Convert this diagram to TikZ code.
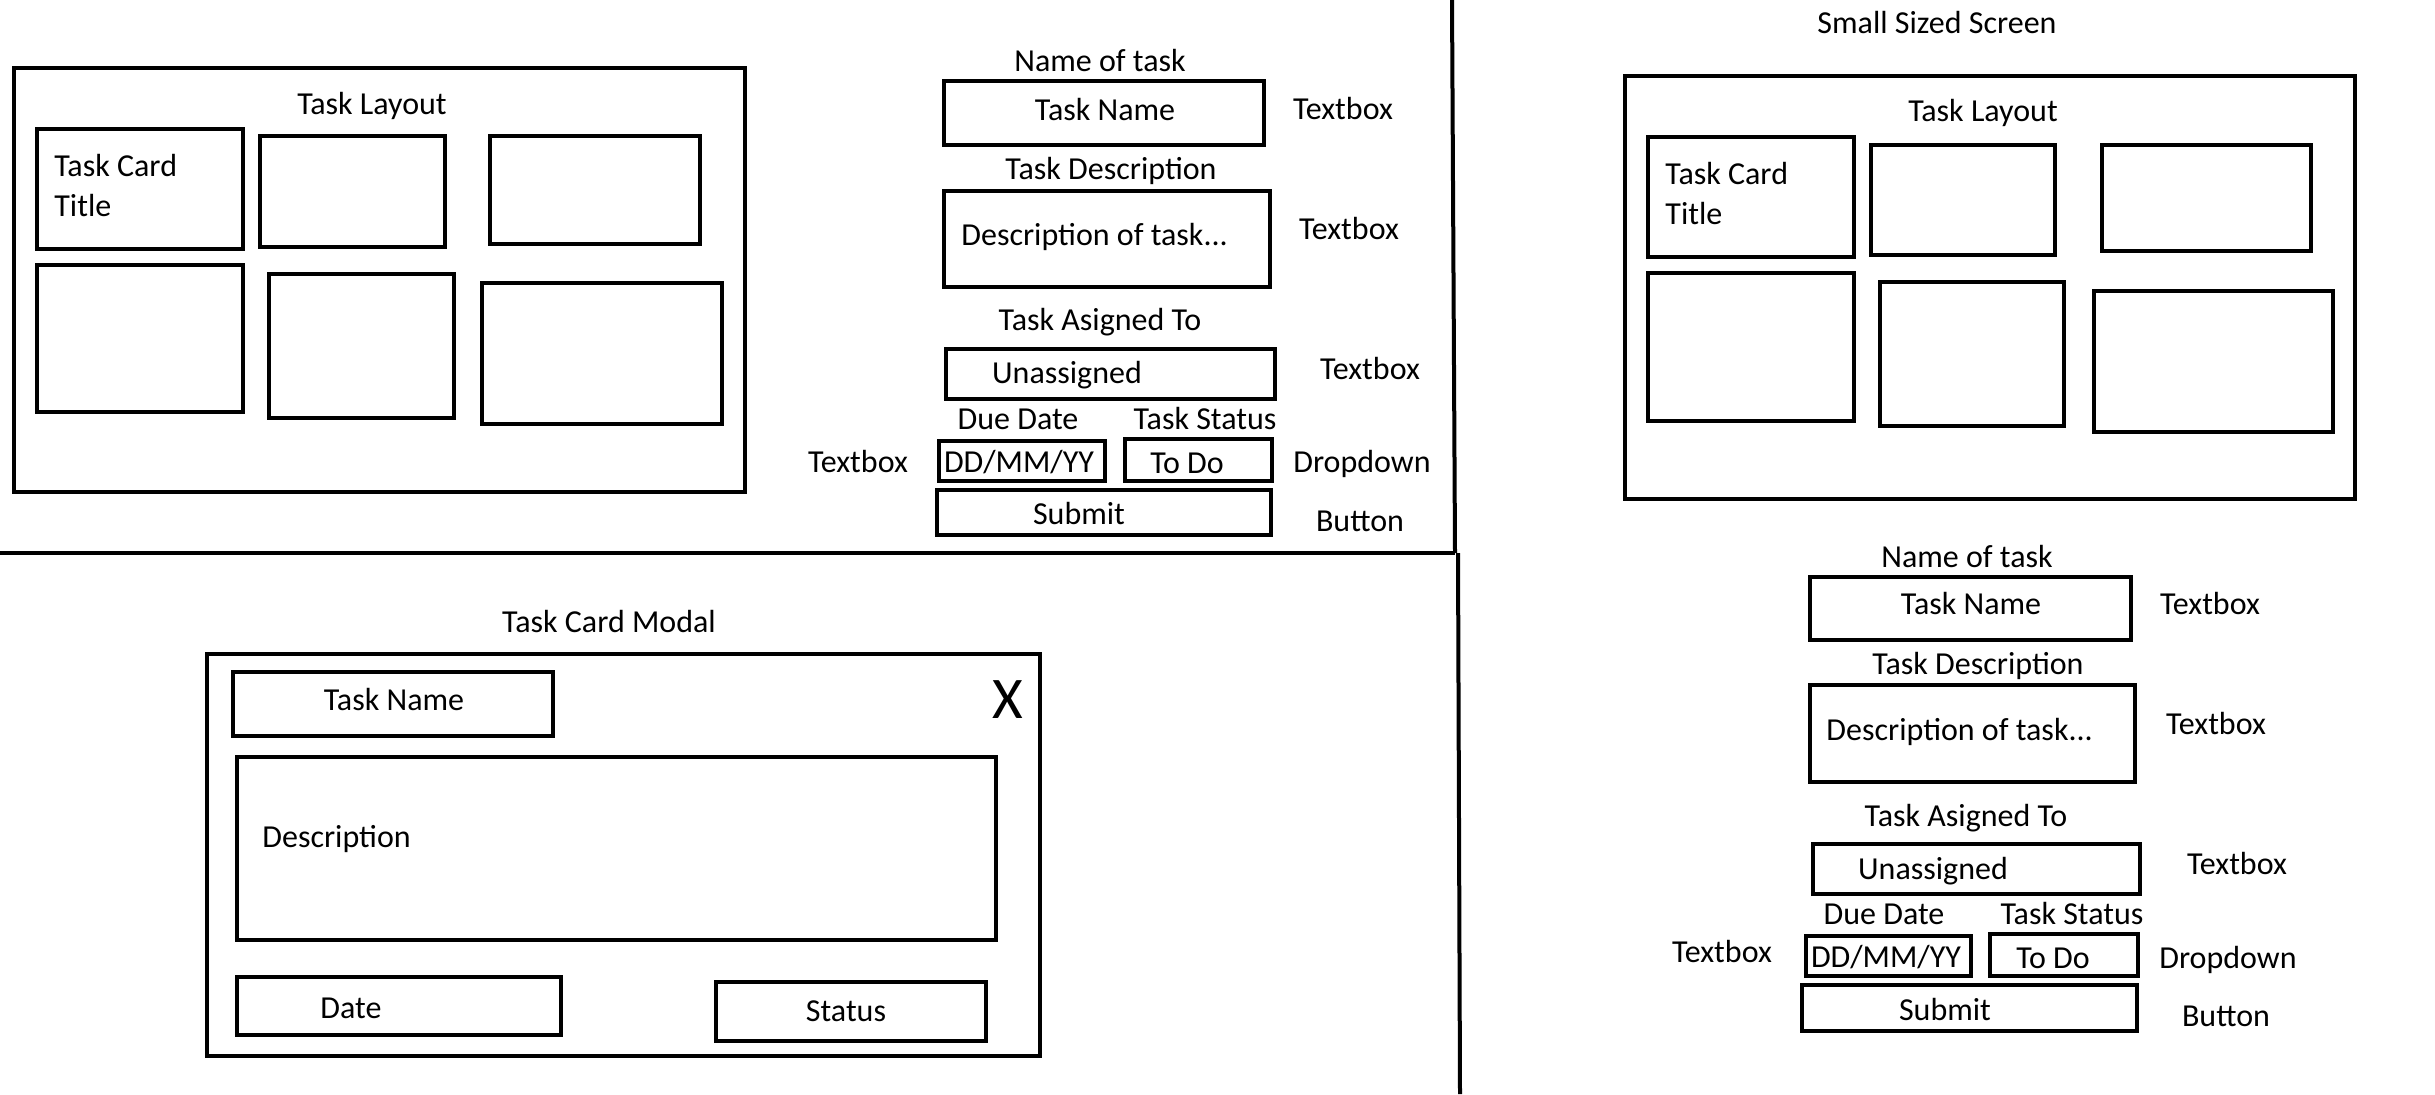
\documentclass[tikz,border=0pt]{standalone}
\usepackage{fontspec}
\setmainfont{Carlito}
\usetikzlibrary{fit}

\tikzset{
  wire/.style={draw, line width=1.75pt, inner sep=0pt},
  lbl/.style={inner sep=0pt, anchor=base},
  lblw/.style={inner sep=0pt, anchor=base west},
  divider/.style={line width=2pt},
}

\begin{document}
\begin{tikzpicture}[x=0.5pt, y=-0.5pt, font=\fontsize{16}{20}\selectfont]
    \useasboundingbox (0,0) rectangle (2435,1094);


    % dividers between the three screens
    \coordinate (vtop) at (1452,0);
    \coordinate (vmid) at (1455,553);
    \coordinate (vmidb) at (1458,553);
    \coordinate (vbot) at (1460,1094);
    \coordinate (hleft) at (0,553);
    \draw[divider] (vtop) -- (vmid);
    \draw[divider] (vmidb) -- (vbot);
    \draw[divider] (hleft) -- (vmid);


    % top left: task layout
    \node[wire, fit={(14,68) (745,492)}] (llayout) {};
    \node[lbl] (llayouttitle) at (372,114) {Task Layout};
    \foreach \n/\xa/\ya/\xb/\yb in {1/37/129/243/249, 2/260/136/445/247, 3/490/136/700/244,
                                   4/37/265/243/412, 5/269/274/454/418, 6/482/283/722/424}
        \node[wire, fit={(\xa,\ya) (\xb,\yb)}] (lcard\n) {};
    \node[inner sep=0pt, anchor=north west, align=left] (lcardtitle) at (54,154) {Task Card\\Title};


    % top middle: new task form
    \node[lbl] (lnamelbl) at (1100,71) {Name of task};
    \node[wire, fit={(944,81) (1264,145)}] (lnamebox) {};
    \node[lbl] (lnametxt) at (1105,120) {Task Name};
    \node[lbl] (lnametype) at (1343,119) {Textbox};
    % description
    \node[lbl] (ldesclbl) at (1111,179) {Task Description};
    \node[wire, fit={(944,191) (1270,287)}] (ldescbox) {};
    \node[lblw] (ldesctxt) at (961,245) {Description of task...};
    \node[lbl] (ldesctype) at (1349,239) {Textbox};
    % assigned to
    \node[lbl] (lassignlbl) at (1100,330) {Task Asigned To};
    \node[wire, fit={(946,349) (1275,399)}] (lassignbox) {};
    \node[lbl] (lassigntxt) at (1067,383) {Unassigned};
    \node[lbl] (lassigntype) at (1370,379) {Textbox};
    % due date and status
    \node[lbl] (lduelbl) at (1018,429) {Due Date};
    \node[lbl] (lstatuslbl) at (1205,429) {Task Status};
    \node[wire, fit={(939,441) (1105,481)}] (ldatebox) {};
    \node[lbl] (ldatetxt) at (1019,472) {DD/MM/YY};
    \node[wire, fit={(1125,439) (1272,481)}] (lstatusbox) {};
    \node[lbl] (lstatustxt) at (1187,473) {To Do};
    \node[lbl] (ldatetype) at (858,472) {Textbox};
    \node[lbl] (lstatustype) at (1362,472) {Dropdown};
    % submit
    \node[wire, fit={(937,490) (1271,535)}] (lsubmitbox) {};
    \node[lbl] (lsubmittxt) at (1079,524) {Submit};
    \node[lbl] (lsubmittype) at (1360,531) {Button};


    % bottom left: task card modal
    \node[lbl] (mtitle) at (609,632) {Task Card Modal};
    \node[wire, fit={(207,654) (1040,1056)}] (modal) {};
    \node[wire, fit={(233,672) (553,736)}] (mnamebox) {};
    \node[lbl] (mnametxt) at (394,710) {Task Name};
    \node[lbl, font=\fontsize{29.5}{34}\selectfont] (mclose) at (1008,718) {X};
    \node[wire, fit={(237,757) (996,940)}] (mdescbox) {};
    \node[lblw] (mdesctxt) at (262,847) {Description};
    \node[wire, fit={(237,977) (561,1035)}] (mdatebox) {};
    \node[lbl] (mdatetxt) at (351,1018) {Date};
    \node[wire, fit={(716,982) (986,1041)}] (mstatusbox) {};
    \node[lbl] (mstatustxt) at (846,1021) {Status};


    % right: small sized screen, layout
    \node[lbl] (stitle) at (1937,33) {Small Sized Screen};
    \node[wire, fit={(1625,76) (2355,499)}] (slayout) {};
    \node[lbl] (slayouttitle) at (1983,121) {Task Layout};
    \foreach \n/\xa/\ya/\xb/\yb in {1/1648/137/1854/257, 2/1871/145/2055/255, 3/2102/145/2311/251,
                                   4/1648/273/1854/421, 5/1880/282/2064/426, 6/2094/291/2333/432}
        \node[wire, fit={(\xa,\ya) (\xb,\yb)}] (scard\n) {};
    \node[inner sep=0pt, anchor=north west, align=left] (scardtitle) at (1665,162) {Task Card\\Title};


    % right: small sized screen, form
    \node[lbl] (snamelbl) at (1967,567) {Name of task};
    \node[wire, fit={(1810,577) (2131,640)}] (snamebox) {};
    \node[lbl] (snametxt) at (1971,614) {Task Name};
    \node[lbl] (snametype) at (2210,614) {Textbox};
    % description
    \node[lbl] (sdesclbl) at (1978,674) {Task Description};
    \node[wire, fit={(1810,685) (2135,782)}] (sdescbox) {};
    \node[lblw] (sdesctxt) at (1826,740) {Description of task...};
    \node[lbl] (sdesctype) at (2216,734) {Textbox};
    % assigned to
    \node[lbl] (sassignlbl) at (1966,826) {Task Asigned To};
    \node[wire, fit={(1813,844) (2140,894)}] (sassignbox) {};
    \node[lbl] (sassigntxt) at (1933,879) {Unassigned};
    \node[lbl] (sassigntype) at (2237,874) {Textbox};
    % due date and status
    \node[lbl] (sduelbl) at (1884,924) {Due Date};
    \node[lbl] (sstatuslbl) at (2072,924) {Task Status};
    \node[wire, fit={(1806,936) (1971,976)}] (sdatebox) {};
    \node[lbl] (sdatetxt) at (1886,967) {DD/MM/YY};
    \node[wire, fit={(1990,934) (2138,976)}] (sstatusbox) {};
    \node[lbl] (sstatustxt) at (2053,968) {To Do};
    \node[lbl] (sdatetype) at (1722,962) {Textbox};
    \node[lbl] (sstatustype) at (2228,968) {Dropdown};
    % submit
    \node[wire, fit={(1802,985) (2137,1031)}] (ssubmitbox) {};
    \node[lbl] (ssubmittxt) at (1945,1020) {Submit};
    \node[lbl] (ssubmittype) at (2226,1026) {Button};

\end{tikzpicture}
\end{document}
